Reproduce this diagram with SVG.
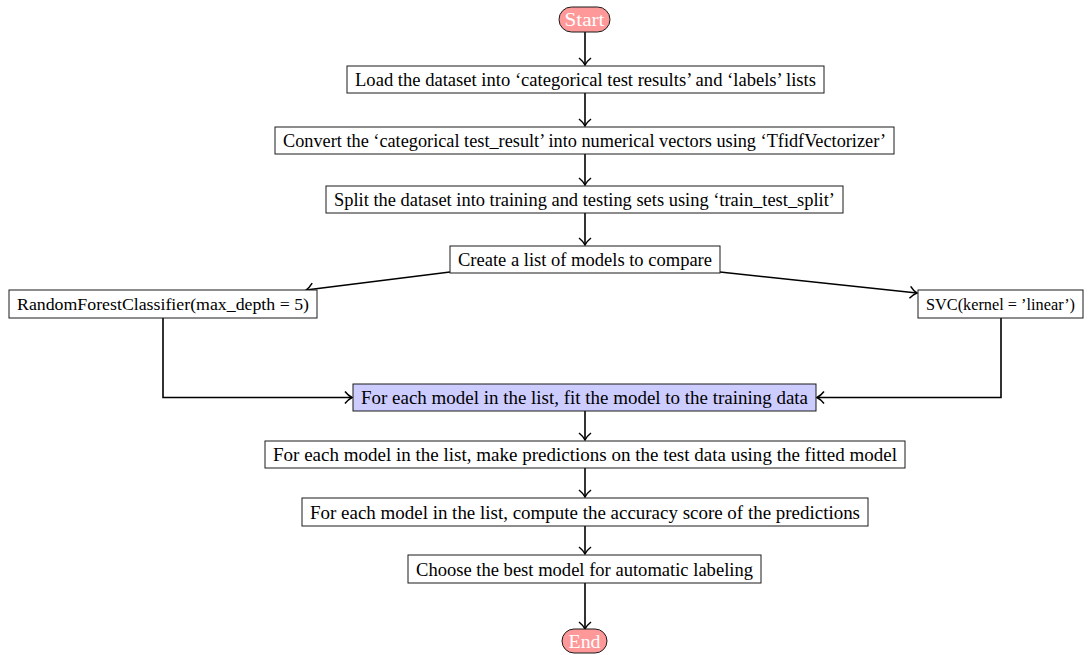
<svg xmlns="http://www.w3.org/2000/svg" width="1089" height="655" viewBox="0 0 1089 655">
<style>
.box{fill:#ffffff;stroke:#1a1a1a;stroke-width:1}
.hl{fill:#ccccff;stroke:#1a1a1a;stroke-width:1}
.term{fill:#ff9999;stroke:#1a1a1a;stroke-width:1}
.t{font-family:"Liberation Serif","DejaVu Serif",serif;font-size:18.5px;fill:#000;text-anchor:middle}
.ts{font-size:17.5px}
.tw{font-family:"Liberation Serif","DejaVu Serif",serif;font-size:18.5px;fill:#ffffff;text-anchor:middle}
.c{fill:none;stroke:#000;stroke-width:1.6}
</style>
<defs>
<marker id="arr" viewBox="-8 -7 10 14" refX="0" refY="0" markerWidth="10" markerHeight="14" orient="auto" markerUnits="userSpaceOnUse">
<path d="M-7,-6 C-4.5,-2.8 -1.8,-0.9 0,0 C-1.8,0.9 -4.5,2.8 -7,6" fill="none" stroke="#000" stroke-width="1.5"/>
</marker>
</defs>
<g id="connectors">
<path class="c" marker-end="url(#arr)" d="M585,32 V65"/>
<path class="c" marker-end="url(#arr)" d="M585,93 V126"/>
<path class="c" marker-end="url(#arr)" d="M585,154 V185"/>
<path class="c" marker-end="url(#arr)" d="M585,213 V245"/>
<path class="c" marker-end="url(#arr)" d="M450,272 L306,290"/>
<path class="c" marker-end="url(#arr)" d="M720,272 L917,293"/>
<path class="c" marker-end="url(#arr)" d="M163,318 V397.5 H352"/>
<path class="c" marker-end="url(#arr)" d="M1001,318 V397.5 H817"/>
<path class="c" marker-end="url(#arr)" d="M585,411 V440"/>
<path class="c" marker-end="url(#arr)" d="M585,468 V497"/>
<path class="c" marker-end="url(#arr)" d="M585,526 V554"/>
<path class="c" marker-end="url(#arr)" d="M585,583 V629"/>
</g>
<g id="start">
<rect class="term" x="559" y="7" width="51" height="25" rx="12.5"/>
<text class="tw" x="584.5" y="26" textLength="40" lengthAdjust="spacingAndGlyphs">Start</text>
</g>
<g id="load">
<rect class="box" x="347" y="66" width="477" height="27"/>
<text class="t" x="585.5" y="86" textLength="461" lengthAdjust="spacingAndGlyphs">Load the dataset into ‘categorical test results’ and ‘labels’ lists</text>
</g>
<g id="convert">
<rect class="box" x="275" y="127" width="619" height="27"/>
<text class="t" x="584.5" y="147" textLength="603" lengthAdjust="spacingAndGlyphs">Convert the ‘categorical test_result’ into numerical vectors using ‘TfidfVectorizer’</text>
</g>
<g id="split">
<rect class="box" x="326" y="186" width="517" height="27"/>
<text class="t" x="584.5" y="206" textLength="501" lengthAdjust="spacingAndGlyphs">Split the dataset into training and testing sets using ‘train_test_split’</text>
</g>
<g id="create">
<rect class="box" x="450" y="246" width="270" height="27"/>
<text class="t" x="585" y="266" textLength="254" lengthAdjust="spacingAndGlyphs">Create a list of models to compare</text>
</g>
<g id="rf">
<rect class="box" x="9" y="290" width="308" height="28"/>
<text class="t ts" x="163" y="310" textLength="292" lengthAdjust="spacingAndGlyphs">RandomForestClassifier(max_depth = 5)</text>
</g>
<g id="svc">
<rect class="box" x="918" y="290" width="165" height="28"/>
<text class="t ts" x="1000.5" y="310" textLength="149" lengthAdjust="spacingAndGlyphs">SVC(kernel = ’linear’)</text>
</g>
<g id="fit">
<rect class="hl" x="353" y="384" width="463" height="27"/>
<text class="t" x="584.5" y="404" textLength="447" lengthAdjust="spacingAndGlyphs">For each model in the list, fit the model to the training data</text>
</g>
<g id="predict">
<rect class="box" x="265" y="441" width="640" height="27"/>
<text class="t" x="585" y="461" textLength="624" lengthAdjust="spacingAndGlyphs">For each model in the list, make predictions on the test data using the fitted model</text>
</g>
<g id="accuracy">
<rect class="box" x="302" y="498" width="566" height="28"/>
<text class="t" x="585" y="518.5" textLength="550" lengthAdjust="spacingAndGlyphs">For each model in the list, compute the accuracy score of the predictions</text>
</g>
<g id="choose">
<rect class="box" x="408" y="555" width="353" height="28"/>
<text class="t" x="584.5" y="575.5" textLength="337" lengthAdjust="spacingAndGlyphs">Choose the best model for automatic labeling</text>
</g>
<g id="end">
<rect class="term" x="562" y="629" width="45" height="24" rx="12"/>
<text class="tw" x="584.5" y="647.5" textLength="32" lengthAdjust="spacingAndGlyphs">End</text>
</g>
</svg>
